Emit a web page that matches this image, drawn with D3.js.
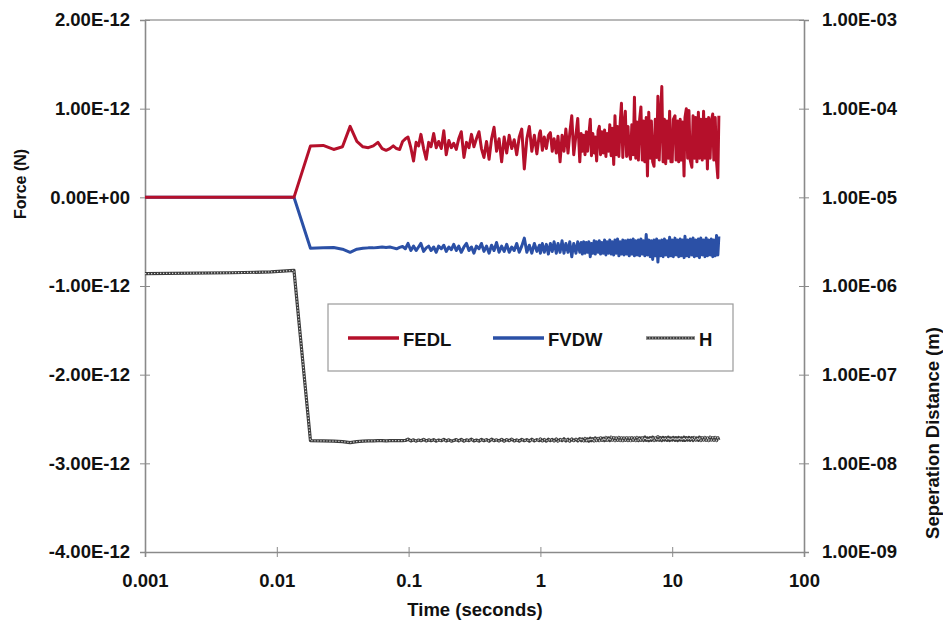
<!DOCTYPE html>
<html>
<head>
<meta charset="utf-8">
<script src="https://cdn.jsdelivr.net/npm/d3@7"></script>
<style>
  body { margin: 0; background: #fff; }
  text { font-family: "Liberation Sans", Arial, sans-serif; font-weight: bold; fill: #111; }
</style>
</head>
<body>
<div id="chart"></div>
<script>
// time samples (seconds)
var times = [
  0.001, 0.0045, 0.009, 0.0135, 0.018, 0.0225, 0.027, 0.0315, 0.036, 0.0405,
  0.045, 0.0495, 0.054, 0.0585, 0.063, 0.0675, 0.072, 0.0765, 0.081, 0.0855,
  0.09, 0.0945, 0.099, 0.104, 0.109, 0.114, 0.119, 0.124, 0.130, 0.136,
  0.142, 0.148, 0.155, 0.162, 0.169, 0.177, 0.185, 0.193, 0.202, 0.211,
  0.220, 0.230, 0.240, 0.251, 0.263, 0.275, 0.287, 0.300, 0.313, 0.327,
  0.342, 0.357, 0.373, 0.390, 0.408, 0.426, 0.445, 0.465, 0.486, 0.508,
  0.531, 0.555, 0.580, 0.606, 0.633, 0.661, 0.691, 0.722, 0.755, 0.789,
  0.824, 0.861, 0.900, 0.940, 0.983, 1.00, 1.035, 1.07, 1.11, 1.15,
  1.19, 1.23, 1.27, 1.32, 1.36, 1.41, 1.46, 1.51, 1.56, 1.62,
  1.67, 1.73, 1.79, 1.86, 1.92, 1.99, 2.04, 2.08, 2.13, 2.18,
  2.23, 2.28, 2.33, 2.39, 2.44, 2.50, 2.56, 2.61, 2.67, 2.74,
  2.80, 2.86, 2.93, 3.00, 3.07, 3.14, 3.21, 3.28, 3.36, 3.44,
  3.51, 3.60, 3.68, 3.76, 3.85, 3.94, 4.03, 4.12, 4.22, 4.31,
  4.41, 4.51, 4.62, 4.72, 4.83, 4.94, 5.06, 5.17, 5.29, 5.41,
  5.54, 5.66, 5.79, 5.93, 6.06, 6.20, 6.35, 6.49, 6.64, 6.80,
  6.95, 7.11, 7.28, 7.44, 7.62, 7.79, 7.97, 8.15, 8.34, 8.53,
  8.73, 8.93, 9.14, 9.35, 9.56, 9.78, 10.0, 10.2, 10.5, 10.7,
  11.0, 11.2, 11.5, 11.7, 12.0, 12.3, 12.5, 12.8, 13.1, 13.4,
  13.7, 14.1, 14.4, 14.7, 15.1, 15.4, 15.8, 16.1, 16.5, 16.9,
  17.3, 17.7, 18.1, 18.5, 18.9, 19.4, 19.8, 20.3, 20.7, 21.2,
  21.7, 22.2, 22.6
]

// FEDL force, in units of 1E-12 N
var fedl = [
  0, 0, 0, 0, 0.58, 0.585, 0.54, 0.57, 0.80, 0.63,
  0.57, 0.56, 0.58, 0.62, 0.55, 0.53, 0.55, 0.58, 0.55, 0.54,
  0.63, 0.66, 0.68, 0.56, 0.41, 0.62, 0.58, 0.71, 0.55, 0.43,
  0.62, 0.57, 0.72, 0.56, 0.63, 0.55, 0.75, 0.48, 0.64, 0.56,
  0.61, 0.54, 0.66, 0.74, 0.45, 0.62, 0.56, 0.71, 0.57, 0.66,
  0.74, 0.55, 0.45, 0.63, 0.43, 0.66, 0.79, 0.52, 0.66, 0.40,
  0.68, 0.50, 0.70, 0.55, 0.65, 0.48, 0.68, 0.77, 0.32, 0.66,
  0.80, 0.52, 0.70, 0.49, 0.72, 0.75, 0.53, 0.68, 0.55, 0.70,
  0.73, 0.52, 0.66, 0.50, 0.69, 0.40, 0.70, 0.52, 0.77, 0.50,
  0.72, 0.92, 0.48, 0.70, 0.89, 0.40, 0.72, 0.52, 0.70, 0.48,
  0.74, 0.52, 0.70, 0.88, 0.47, 0.72, 0.50, 0.68, 0.41, 0.75,
  0.80, 0.48, 0.74, 0.50, 0.76, 0.46, 0.72, 0.52, 0.82, 0.47,
  0.78, 0.37, 0.92, 0.48, 0.80, 0.46, 0.84, 1.06, 0.45, 0.82,
  0.97, 0.46, 0.80, 0.50, 0.43, 0.82, 0.48, 1.13, 0.44, 0.85,
  0.42, 0.88, 1.02, 0.42, 0.86, 0.40, 0.90, 0.24, 0.96, 0.44,
  0.86, 0.40, 0.35, 0.88, 0.45, 1.14, 0.42, 0.90, 1.25, 0.40,
  0.88, 0.38, 0.86, 0.44, 0.97, 0.40, 0.40, 0.88, 0.92, 0.42,
  0.86, 0.40, 0.88, 0.42, 0.85, 0.24, 0.90, 1.00, 0.44, 0.98,
  0.42, 0.34, 0.92, 0.44, 0.90, 0.40, 0.96, 0.44, 0.88, 0.42,
  0.97, 0.44, 0.88, 0.32, 0.90, 0.44, 0.86, 0.94, 0.42, 0.90,
  0.40, 0.22, 0.92
]

// FVDW force, in units of 1E-12 N
var fvdw = [
  0, 0, 0, 0, -0.575, -0.57, -0.565, -0.585, -0.62, -0.585,
  -0.575, -0.57, -0.57, -0.565, -0.56, -0.565, -0.56, -0.57, -0.58, -0.565,
  -0.555, -0.58, -0.52, -0.60, -0.55, -0.60, -0.56, -0.52, -0.61, -0.57,
  -0.55, -0.60, -0.56, -0.62, -0.55, -0.58, -0.54, -0.61, -0.56, -0.59,
  -0.53, -0.60, -0.55, -0.62, -0.56, -0.52, -0.60, -0.56, -0.63, -0.55,
  -0.58, -0.52, -0.61, -0.55, -0.63, -0.54, -0.60, -0.51, -0.62, -0.55,
  -0.61, -0.53, -0.62, -0.56, -0.60, -0.52, -0.62, -0.55, -0.46, -0.62,
  -0.54, -0.63, -0.52, -0.61, -0.54, -0.63, -0.52, -0.62, -0.53, -0.64,
  -0.52, -0.61, -0.50, -0.63, -0.52, -0.62, -0.49, -0.63, -0.52, -0.62,
  -0.50, -0.67, -0.52, -0.63, -0.50, -0.62, -0.51, -0.64, -0.50, -0.63,
  -0.51, -0.62, -0.50, -0.67, -0.52, -0.63, -0.49, -0.64, -0.50, -0.62,
  -0.49, -0.64, -0.51, -0.63, -0.48, -0.65, -0.50, -0.63, -0.48, -0.64,
  -0.50, -0.65, -0.48, -0.63, -0.47, -0.66, -0.50, -0.64, -0.48, -0.65,
  -0.49, -0.64, -0.48, -0.66, -0.48, -0.64, -0.47, -0.66, -0.49, -0.65,
  -0.48, -0.66, -0.47, -0.64, -0.49, -0.66, -0.42, -0.65, -0.48, -0.67,
  -0.49, -0.70, -0.48, -0.66, -0.47, -0.73, -0.49, -0.66, -0.48, -0.67,
  -0.47, -0.65, -0.49, -0.67, -0.45, -0.66, -0.48, -0.67, -0.46, -0.65,
  -0.48, -0.67, -0.47, -0.66, -0.48, -0.68, -0.44, -0.66, -0.48, -0.67,
  -0.47, -0.65, -0.46, -0.67, -0.48, -0.66, -0.47, -0.68, -0.46, -0.65,
  -0.48, -0.67, -0.46, -0.66, -0.48, -0.65, -0.47, -0.67, -0.48, -0.66,
  -0.43, -0.65, -0.44
]

// H, separation distance (m)
var sep = [
  1.38e-6, 1.41e-6, 1.44e-6, 1.50e-6, 1.80e-8, 1.79e-8, 1.78e-8, 1.76e-8, 1.71e-8, 1.76e-8,
  1.78e-8, 1.79e-8, 1.79e-8, 1.80e-8, 1.80e-8, 1.79e-8, 1.80e-8, 1.80e-8, 1.81e-8, 1.80e-8,
  1.80e-8, 1.81e-8, 1.87e-8, 1.79e-8, 1.84e-8, 1.78e-8, 1.83e-8, 1.80e-8, 1.86e-8, 1.79e-8,
  1.84e-8, 1.80e-8, 1.85e-8, 1.78e-8, 1.83e-8, 1.80e-8, 1.86e-8, 1.79e-8, 1.84e-8, 1.78e-8,
  1.81e-8, 1.85e-8, 1.79e-8, 1.86e-8, 1.78e-8, 1.84e-8, 1.80e-8, 1.87e-8, 1.79e-8, 1.83e-8,
  1.78e-8, 1.86e-8, 1.80e-8, 1.85e-8, 1.78e-8, 1.87e-8, 1.80e-8, 1.84e-8, 1.79e-8, 1.86e-8,
  1.78e-8, 1.85e-8, 1.80e-8, 1.87e-8, 1.79e-8, 1.84e-8, 1.78e-8, 1.86e-8, 1.80e-8, 1.85e-8,
  1.78e-8, 1.87e-8, 1.79e-8, 1.85e-8, 1.80e-8, 1.88e-8, 1.79e-8, 1.86e-8, 1.78e-8, 1.87e-8,
  1.80e-8, 1.86e-8, 1.79e-8, 1.88e-8, 1.78e-8, 1.86e-8, 1.80e-8, 1.89e-8, 1.79e-8, 1.87e-8,
  1.78e-8, 1.88e-8, 1.80e-8, 1.87e-8, 1.79e-8, 1.90e-8, 1.80e-8, 1.88e-8, 1.79e-8, 1.91e-8,
  1.80e-8, 1.89e-8, 1.78e-8, 1.92e-8, 1.80e-8, 1.90e-8, 1.79e-8, 1.93e-8, 1.81e-8, 1.91e-8,
  1.80e-8, 1.94e-8, 1.82e-8, 1.92e-8, 1.80e-8, 1.96e-8, 1.82e-8, 1.93e-8, 1.81e-8, 1.97e-8,
  1.82e-8, 1.95e-8, 1.80e-8, 1.93e-8, 1.82e-8, 1.96e-8, 1.81e-8, 1.94e-8, 1.80e-8, 1.93e-8,
  1.82e-8, 1.95e-8, 1.81e-8, 1.94e-8, 1.80e-8, 1.95e-8, 1.82e-8, 1.93e-8, 1.81e-8, 1.96e-8,
  1.80e-8, 1.94e-8, 1.82e-8, 1.95e-8, 1.81e-8, 1.98e-8, 1.82e-8, 1.93e-8, 1.80e-8, 1.95e-8,
  1.82e-8, 1.97e-8, 1.81e-8, 1.94e-8, 1.83e-8, 2.00e-8, 1.82e-8, 1.95e-8, 1.81e-8, 1.96e-8,
  1.83e-8, 1.95e-8, 1.82e-8, 1.97e-8, 1.81e-8, 1.94e-8, 1.83e-8, 1.96e-8, 1.82e-8, 1.95e-8,
  1.81e-8, 1.96e-8, 1.83e-8, 1.94e-8, 1.82e-8, 1.97e-8, 1.81e-8, 1.95e-8, 1.83e-8, 1.96e-8,
  1.82e-8, 1.95e-8, 1.81e-8, 1.96e-8, 1.83e-8, 1.94e-8, 1.82e-8, 1.97e-8, 1.81e-8, 1.95e-8,
  1.83e-8, 1.96e-8, 1.82e-8, 1.94e-8, 1.81e-8, 1.97e-8, 1.83e-8, 1.95e-8, 1.82e-8, 1.96e-8,
  1.81e-8, 1.95e-8, 1.83e-8
]

// axis ticks and labels
var xTicks = [0.001, 0.01, 0.1, 1, 10, 100]
var xTickLabels = ["0.001", "0.01", "0.1", "1", "10", "100"]
var leftTicks = [2, 1, 0, -1, -2, -3, -4]
var leftTickLabels = ["2.00E-12", "1.00E-12", "0.00E+00", "-1.00E-12", "-2.00E-12", "-3.00E-12", "-4.00E-12"]
var rightTicks = [1e-3, 1e-4, 1e-5, 1e-6, 1e-7, 1e-8, 1e-9]
var rightTickLabels = ["1.00E-03", "1.00E-04", "1.00E-05", "1.00E-06", "1.00E-07", "1.00E-08", "1.00E-09"]
var seriesNames = ["FEDL", "FVDW", "H"]

// size and plot area ("top" is taken by window, so plot* names)
var width = 943
var height = 620
var plotL = 145, plotR = 804, plotT = 20, plotB = 552

var red = "#b5102b"
var blue = "#2b50a6"
var axisGray = "#8a8a8a"

var svg = d3.select("#chart")
    .append("svg")
    .attr("width", width)
    .attr("height", height)

var x = d3.scaleLog().domain([0.001, 100]).range([plotL, plotR])
var yL = d3.scaleLinear().domain([-4, 2]).range([plotB, plotT])
var yR = d3.scaleLog().domain([1e-9, 1e-3]).range([plotB, plotT])

// top border of the plot area
svg.append("line")
    .attr("x1", plotL).attr("x2", plotR)
    .attr("y1", plotT).attr("y2", plotT)
    .attr("stroke", "#a0a0a0").attr("stroke-width", 1.5)

// axes
var gx = svg.append("g")
    .attr("transform", "translate(0," + plotB + ")")
    .call(d3.axisBottom(x).tickValues(xTicks)
        .tickFormat(function (d, i) { return xTickLabels[i] })
        .tickSizeOuter(0).tickSize(5))
gx.selectAll(".tick line").attr("y1", -5).attr("y2", 5)
gx.selectAll(".tick text").attr("y", 22).attr("dy", "0.71em")

var gl = svg.append("g")
    .attr("transform", "translate(" + plotL + ",0)")
    .call(d3.axisLeft(yL).tickValues(leftTicks)
        .tickFormat(function (d, i) { return leftTickLabels[i] })
        .tickSizeOuter(0).tickSize(5))
gl.selectAll(".tick line").attr("x1", 5).attr("x2", -5)
gl.selectAll(".tick text").attr("x", -15)

var gr = svg.append("g")
    .attr("transform", "translate(" + plotR + ",0)")
    .call(d3.axisRight(yR).tickValues(rightTicks)
        .tickFormat(function (d, i) { return rightTickLabels[i] })
        .tickSizeOuter(0).tickSize(5))
gr.selectAll(".tick line").attr("x1", -5).attr("x2", 5)
gr.selectAll(".tick text").attr("x", 18)

svg.selectAll(".domain").attr("stroke", axisGray).attr("stroke-width", 1.6)
svg.selectAll(".tick line").attr("stroke", axisGray).attr("stroke-width", 1)
svg.selectAll(".tick text")
    .style("font-family", '"Liberation Sans", Arial, sans-serif')
    .style("font-weight", "bold")
    .style("font-size", "18.5px")
    .attr("fill", "#111")

// axis titles
svg.append("text")
    .attr("x", 475).attr("y", 616)
    .attr("text-anchor", "middle")
    .style("font-size", "18.5px")
    .text("Time (seconds)")

svg.append("text")
    .attr("transform", "translate(26,184) rotate(-90)")
    .attr("text-anchor", "middle")
    .style("font-size", "16px")
    .text("Force (N)")

svg.append("text")
    .attr("transform", "translate(939,433) rotate(-90)")
    .attr("text-anchor", "middle")
    .style("font-size", "18.5px")
    .text("Seperation Distance (m)")

// lines
var lineL = d3.line()
    .x(function (d, i) { return x(times[i]) })
    .y(function (d) { return yL(d) })
var lineR = d3.line()
    .x(function (d, i) { return x(times[i]) })
    .y(function (d) { return yR(d) })

// H drawn as a dark chain with light dots inside
svg.append("path")
    .attr("d", lineR(sep))
    .attr("fill", "none")
    .attr("stroke", "#3c3c3c")
    .attr("stroke-width", 3.2)
    .attr("stroke-linejoin", "round")
svg.append("path")
    .attr("d", lineR(sep))
    .attr("fill", "none")
    .attr("stroke", "#d6d6d6")
    .attr("stroke-width", 1.2)
    .attr("stroke-dasharray", "1.3,1.7")

svg.append("path")
    .attr("d", lineL(fvdw))
    .attr("fill", "none")
    .attr("stroke", blue)
    .attr("stroke-width", 3)
    .attr("stroke-linejoin", "round")

svg.append("path")
    .attr("d", lineL(fedl))
    .attr("fill", "none")
    .attr("stroke", red)
    .attr("stroke-width", 3)
    .attr("stroke-linejoin", "round")

// legend
var legend = svg.append("g")
legend.append("rect")
    .attr("x", 328).attr("y", 304)
    .attr("width", 405).attr("height", 67)
    .attr("fill", "#fff")
    .attr("stroke", "#9a9a9a").attr("stroke-width", 1.2)

var legendX = [348, 493, 646]
var legendColors = [red, blue, null]
seriesNames.forEach(function (name, i) {
    var lx = legendX[i]
    if (legendColors[i]) {
        legend.append("line")
            .attr("x1", lx).attr("x2", lx + 51)
            .attr("y1", 338).attr("y2", 338)
            .attr("stroke", legendColors[i]).attr("stroke-width", 3.5)
    } else {
        legend.append("line")
            .attr("x1", lx).attr("x2", lx + 49)
            .attr("y1", 338).attr("y2", 338)
            .attr("stroke", "#3c3c3c").attr("stroke-width", 3.2)
        legend.append("line")
            .attr("x1", lx).attr("x2", lx + 49)
            .attr("y1", 338).attr("y2", 338)
            .attr("stroke", "#d6d6d6").attr("stroke-width", 1.2)
            .attr("stroke-dasharray", "1.3,1.7")
    }
    legend.append("text")
        .attr("x", lx + (legendColors[i] ? 55 : 53))
        .attr("y", 345.5)
        .style("font-size", "18.5px")
        .text(name)
})
</script>
</body>
</html>
